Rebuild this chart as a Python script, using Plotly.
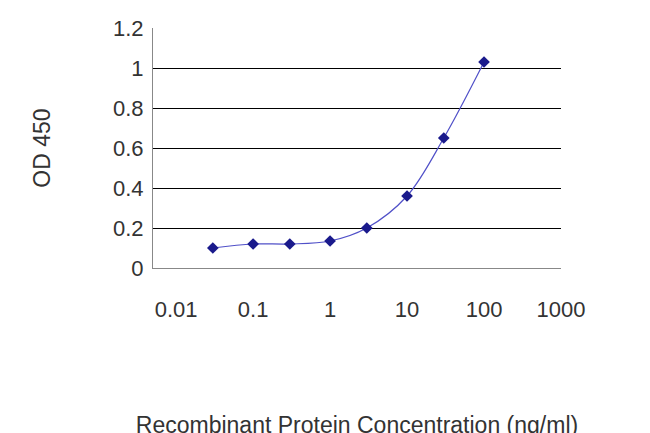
import plotly.graph_objects as go

conc = [0.03, 0.1, 0.3, 1, 3, 10, 30, 100]
od450 = [0.10, 0.12, 0.12, 0.135, 0.20, 0.36, 0.65, 1.03]
x_ticks = [0.01, 0.1, 1, 10, 100, 1000]
x_tick_text = ["0.01", "0.1", "1", "10", "100", "1000"]
y_ticks = [0, 0.2, 0.4, 0.6, 0.8, 1, 1.2]
y_tick_text = ["0", "0.2", "0.4", "0.6", "0.8", "1", "1.2"]

fig = go.Figure(go.Scatter(
    x=conc, y=od450, mode="lines+markers",
    line=dict(color="#5050c8", width=1.2, shape="spline"),
    marker=dict(symbol="diamond", size=9, color="#1a1a8c"),
))

fig.update_layout(
    width=650, height=433,
    margin=dict(l=145, r=97, t=20, b=173),
    paper_bgcolor="white", plot_bgcolor="white",
    font=dict(family="Liberation Sans, Arial", size=22, color="#333333"),
    showlegend=False,
)
fig.update_xaxes(
    type="log", range=[-2.3, 3.0], automargin=False,
    tickvals=x_ticks, ticktext=x_tick_text,
    showgrid=False, showline=True, linecolor="#888888",
    ticks="", ticklabelstandoff=22,
    title=dict(text="Recombinant Protein Concentration (ng/ml)", standoff=95,
               font=dict(size=23)),
)
fig.update_yaxes(
    range=[0, 1.2], tickvals=y_ticks, ticktext=y_tick_text, automargin=False,
    showgrid=True, gridcolor="black", gridwidth=1,
    showline=True, linecolor="#888888", zeroline=False,
    ticklabelstandoff=4,
    title=dict(text="OD 450", standoff=55, font=dict(size=23)),
)

fig.write_html("out.html")
